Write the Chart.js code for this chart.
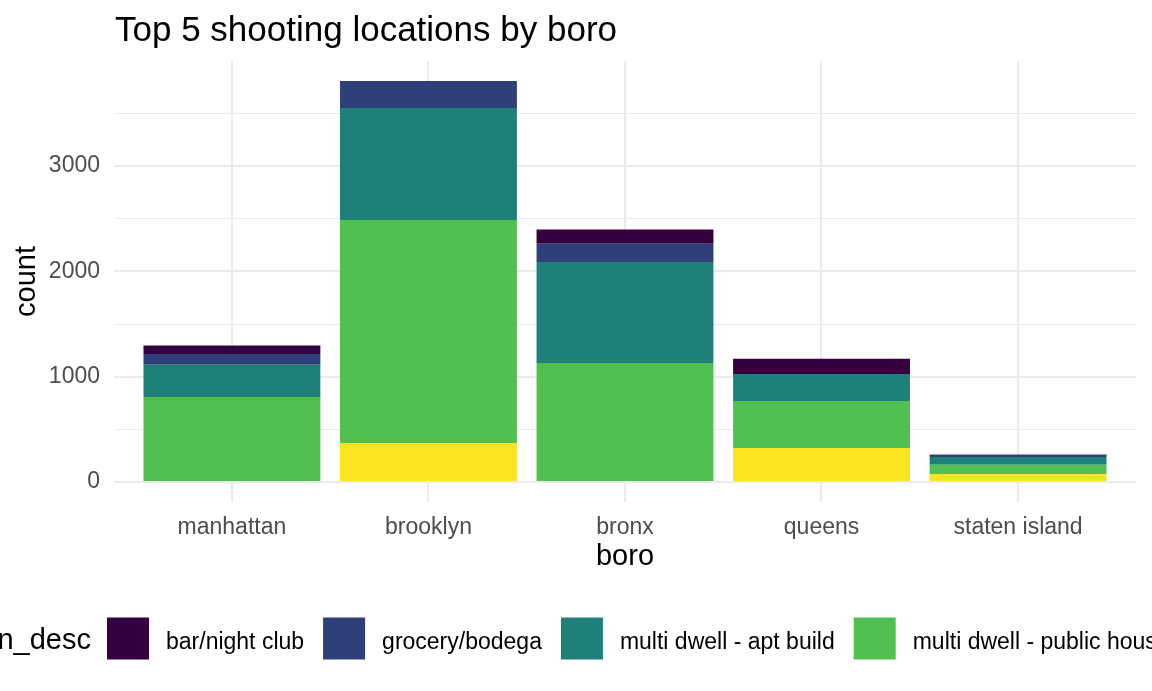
<!DOCTYPE html>
<html>
<head>
<meta charset="utf-8">
<script src="https://cdn.jsdelivr.net/npm/chart.js@4/dist/chart.umd.min.js"></script>
<style>
html,body{margin:0;padding:0;background:#ffffff;overflow:hidden}
#wrap{width:1152px;height:691px;position:relative}
canvas{display:block}
</style>
</head>
<body>
<div id="wrap"><canvas id="c" width="1152" height="691"></canvas></div>
<script>
// ---- data ----
const categories = ['manhattan', 'brooklyn', 'bronx', 'queens', 'staten island'];
const barNightClub     = [82, 0, 136, 145, 0];
const groceryBodega    = [101, 256, 174, 0, 25];
const multiDwellApt    = [307, 1064, 959, 257, 73];
const multiDwellPublic = [807, 2118, 1130, 446, 88];
const pvtHouse         = [0, 370, 0, 323, 76];
const seriesLabels = ['bar/night club', 'grocery/bodega', 'multi dwell - apt build', 'multi dwell - public housing', 'pvt house'];
const yMajorTicks = [0, 1000, 2000, 3000];
const yMinorTicks = [500, 1500, 2500, 3500];
const chartTitle = 'Top 5 shooting locations by boro';
const xTitle = 'boro';
const yTitle = 'count';
const legendTitle = 'location_desc';

// ---- styles ----
const seriesColors = ['#360040', '#2F3F7A', '#1F807A', '#51C050', '#FBE421'];
const FONT = "'Liberation Sans', Arial, Helvetica, sans-serif";
Chart.defaults.font.family = FONT;

const seriesValues = [barNightClub, groceryBodega, multiDwellApt, multiDwellPublic, pvtHouse];
// ggplot stacks the first level on top, so build datasets bottom-first
const datasets = [];
for (let i = seriesValues.length - 1; i >= 0; i--) {
  datasets.push({
    label: seriesLabels[i],
    data: seriesValues[i].map((v, k) => ({ x: k, y: v })),
    backgroundColor: seriesColors[i],
    borderWidth: 0,
    categoryPercentage: 1.0,
    barPercentage: 0.9
  });
}

const decorPlugin = {
  id: 'decor',
  afterDraw(chart) {
    const ctx = chart.ctx;
    ctx.save();
    // title
    ctx.fillStyle = '#000000';
    ctx.font = '35px ' + FONT;
    ctx.textAlign = 'left';
    ctx.textBaseline = 'alphabetic';
    ctx.fillText(chartTitle, 115, 40.5);
    // legend
    const sw = 42, swTop = 617.5, baseY = 648.5;
    ctx.font = '29px ' + FONT;
    ctx.textAlign = 'right';
    ctx.fillText(legendTitle, 91, baseY);
    ctx.font = '23px ' + FONT;
    ctx.textAlign = 'left';
    let x = 107;
    const ds = chart.data.datasets.slice().reverse();
    ds.forEach(d => {
      ctx.fillStyle = d.backgroundColor;
      ctx.fillRect(x, swTop, sw, sw);
      const tx = x + sw + 17;
      ctx.fillStyle = '#000000';
      ctx.fillText(d.label, tx, baseY);
      x = tx + ctx.measureText(d.label).width + 19;
    });
    ctx.restore();
  }
};

new Chart(document.getElementById('c'), {
  type: 'bar',
  data: { datasets },
  plugins: [decorPlugin],
  options: {
    responsive: false,
    animation: false,
    devicePixelRatio: 1,
    layout: { padding: { left: 0, right: 16, top: 61, bottom: 109 } },
    plugins: {
      legend: { display: false },
      tooltip: { enabled: false },
      title: { display: false }
    },
    scales: {
      x: {
        type: 'linear',
        min: -0.6,
        max: categories.length - 1 + 0.6,
        stacked: true,
        offset: false,
        afterBuildTicks: s => { s.ticks = categories.map((c, i) => ({ value: i })); },
        afterFit: s => { s.height = 80; },
        ticks: {
          callback: v => categories[v],
          font: { size: 23 },
          color: '#4D4D4D',
          padding: 12,
          autoSkip: false,
          maxRotation: 0
        },
        grid: { color: '#EBEBEB', lineWidth: 2.1, drawTicks: false, offset: false },
        border: { display: false },
        title: { display: true, text: xTitle, color: '#000000', font: { size: 29 }, padding: { top: 0, bottom: 8 } }
      },
      y: {
        stacked: true,
        min: -190,
        max: 3998,
        afterBuildTicks: s => {
          s.ticks = yMajorTicks.concat(yMinorTicks).sort((a, b) => a - b).map(v => ({ value: v }));
        },
        afterFit: s => { s.width = 114; },
        ticks: {
          callback: v => (yMajorTicks.includes(v) ? String(v) : ''),
          font: { size: 23 },
          color: '#4D4D4D',
          padding: 14
        },
        grid: {
          color: '#EBEBEB',
          lineWidth: c => (c.tick && yMajorTicks.includes(c.tick.value) ? 2.1 : 1.05),
          drawTicks: false
        },
        border: { display: false },
        title: { display: true, text: yTitle, color: '#000000', font: { size: 29 }, padding: { top: 10 } }
      }
    }
  }
});
</script>
</body>
</html>
